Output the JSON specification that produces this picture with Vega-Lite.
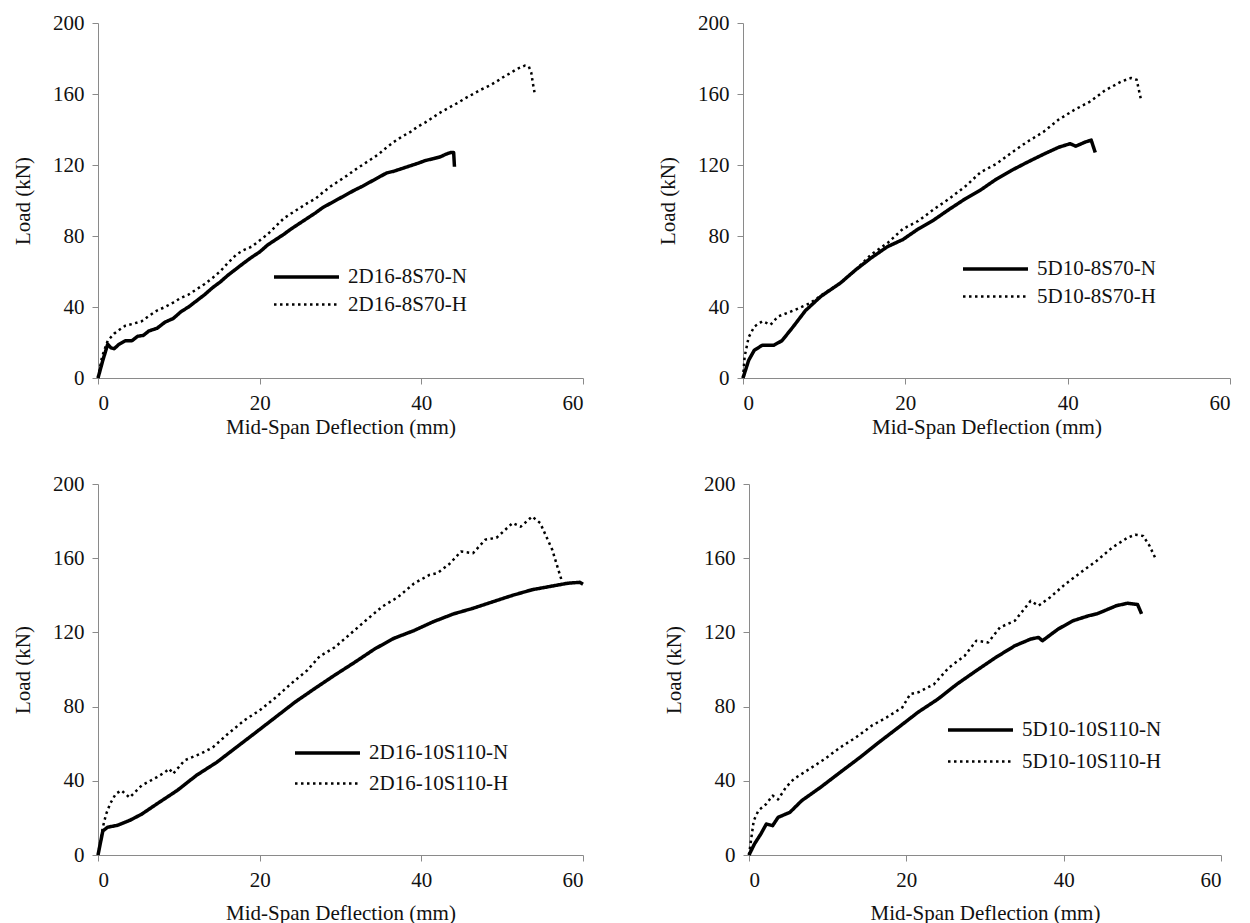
{
  "$schema": "https://vega.github.io/schema/vega-lite/v6.json",
  "background": "white",
  "padding": {"left": 12, "top": 12, "right": 5, "bottom": 5},
  "autosize": {"type": "pad"},
  "config": {
    "font": "Liberation Serif",
    "view": {"stroke": null},
    "line": {"color": "black", "strokeCap": "butt", "strokeJoin": "round"},
    "style": {
      "guide-label": {"font": "Liberation Serif", "fill": "#111"},
      "guide-title": {"font": "Liberation Serif", "fill": "#111"}
    },
    "axis": {
      "grid": false,
      "domainColor": "#8a8a8a",
      "tickColor": "#8a8a8a",
      "domainWidth": 1,
      "tickSize": 6,
      "labelFont": "Liberation Serif",
      "labelFontSize": 21,
      "labelColor": "#111",
      "labelPadding": 8,
      "titleFont": "Liberation Serif",
      "titleFontSize": 21,
      "titleFontWeight": "normal",
      "titleColor": "#111"
    },
    "axisX": {"titlePadding": 12},
    "axisY": {"titlePadding": 19},
    "legend": {
      "title": null,
      "orient": "none",
      "padding": 0,
      "symbolType": "M0,0H4",
      "symbolSize": 1056,
      "symbolStrokeColor": "black",
      "symbolFillColor": "transparent",
      "labelFont": "Liberation Serif",
      "labelFontSize": 21,
      "labelColor": "#111",
      "labelOffset": 56,
      "rowPadding": 0
    }
  },
  "data": {"values": [
    {"p":"TL","s":"2D16-8S70-N","x":0,"y":0},{"p":"TL","s":"2D16-8S70-N","x":0.6,"y":10},{"p":"TL","s":"2D16-8S70-N","x":1.2,"y":19},{"p":"TL","s":"2D16-8S70-N","x":1.6,"y":17},{"p":"TL","s":"2D16-8S70-N","x":2.0,"y":16.5},{"p":"TL","s":"2D16-8S70-N","x":2.6,"y":19},{"p":"TL","s":"2D16-8S70-N","x":3.4,"y":21},{"p":"TL","s":"2D16-8S70-N","x":4.2,"y":21},{"p":"TL","s":"2D16-8S70-N","x":4.9,"y":23.5},{"p":"TL","s":"2D16-8S70-N","x":5.6,"y":24},{"p":"TL","s":"2D16-8S70-N","x":6.3,"y":26.5},{"p":"TL","s":"2D16-8S70-N","x":7.3,"y":28},{"p":"TL","s":"2D16-8S70-N","x":8.3,"y":31.5},{"p":"TL","s":"2D16-8S70-N","x":9.3,"y":33.5},{"p":"TL","s":"2D16-8S70-N","x":10.3,"y":37.5},{"p":"TL","s":"2D16-8S70-N","x":11.2,"y":40},{"p":"TL","s":"2D16-8S70-N","x":12.2,"y":43.5},{"p":"TL","s":"2D16-8S70-N","x":13.2,"y":47},{"p":"TL","s":"2D16-8S70-N","x":14.2,"y":51},{"p":"TL","s":"2D16-8S70-N","x":15.1,"y":54},{"p":"TL","s":"2D16-8S70-N","x":16.1,"y":58},{"p":"TL","s":"2D16-8S70-N","x":17.1,"y":61.5},{"p":"TL","s":"2D16-8S70-N","x":18.1,"y":65},{"p":"TL","s":"2D16-8S70-N","x":19,"y":68},{"p":"TL","s":"2D16-8S70-N","x":20,"y":71},{"p":"TL","s":"2D16-8S70-N","x":21,"y":75},{"p":"TL","s":"2D16-8S70-N","x":22,"y":78},{"p":"TL","s":"2D16-8S70-N","x":23,"y":81},{"p":"TL","s":"2D16-8S70-N","x":23.9,"y":84},{"p":"TL","s":"2D16-8S70-N","x":24.9,"y":87},{"p":"TL","s":"2D16-8S70-N","x":25.9,"y":90},{"p":"TL","s":"2D16-8S70-N","x":26.9,"y":93},{"p":"TL","s":"2D16-8S70-N","x":27.8,"y":96},{"p":"TL","s":"2D16-8S70-N","x":28.8,"y":98.5},{"p":"TL","s":"2D16-8S70-N","x":29.8,"y":101},{"p":"TL","s":"2D16-8S70-N","x":30.8,"y":103.5},{"p":"TL","s":"2D16-8S70-N","x":31.8,"y":106},{"p":"TL","s":"2D16-8S70-N","x":32.7,"y":108},{"p":"TL","s":"2D16-8S70-N","x":33.7,"y":110.5},{"p":"TL","s":"2D16-8S70-N","x":34.7,"y":113},{"p":"TL","s":"2D16-8S70-N","x":35.7,"y":115.5},{"p":"TL","s":"2D16-8S70-N","x":36.6,"y":116.5},{"p":"TL","s":"2D16-8S70-N","x":37.6,"y":118},{"p":"TL","s":"2D16-8S70-N","x":38.6,"y":119.5},{"p":"TL","s":"2D16-8S70-N","x":39.6,"y":121},{"p":"TL","s":"2D16-8S70-N","x":40.5,"y":122.5},{"p":"TL","s":"2D16-8S70-N","x":41.5,"y":123.6},{"p":"TL","s":"2D16-8S70-N","x":42.3,"y":124.5},{"p":"TL","s":"2D16-8S70-N","x":43,"y":126},{"p":"TL","s":"2D16-8S70-N","x":43.6,"y":127},{"p":"TL","s":"2D16-8S70-N","x":44,"y":127},{"p":"TL","s":"2D16-8S70-N","x":44.1,"y":119},
    {"p":"TL","s":"2D16-8S70-H","x":0,"y":0},{"p":"TL","s":"2D16-8S70-H","x":0.5,"y":12},{"p":"TL","s":"2D16-8S70-H","x":1.2,"y":21},{"p":"TL","s":"2D16-8S70-H","x":2,"y":25},{"p":"TL","s":"2D16-8S70-H","x":2.6,"y":27},{"p":"TL","s":"2D16-8S70-H","x":3.4,"y":29.5},{"p":"TL","s":"2D16-8S70-H","x":4.3,"y":30.5},{"p":"TL","s":"2D16-8S70-H","x":5.4,"y":32},{"p":"TL","s":"2D16-8S70-H","x":6.3,"y":35},{"p":"TL","s":"2D16-8S70-H","x":7.3,"y":38},{"p":"TL","s":"2D16-8S70-H","x":8.3,"y":40},{"p":"TL","s":"2D16-8S70-H","x":9.3,"y":42.5},{"p":"TL","s":"2D16-8S70-H","x":10.2,"y":45},{"p":"TL","s":"2D16-8S70-H","x":11.2,"y":47},{"p":"TL","s":"2D16-8S70-H","x":12.2,"y":50},{"p":"TL","s":"2D16-8S70-H","x":13.2,"y":53},{"p":"TL","s":"2D16-8S70-H","x":14.2,"y":56.5},{"p":"TL","s":"2D16-8S70-H","x":15.1,"y":60},{"p":"TL","s":"2D16-8S70-H","x":16.1,"y":65},{"p":"TL","s":"2D16-8S70-H","x":17.1,"y":69.5},{"p":"TL","s":"2D16-8S70-H","x":18,"y":72},{"p":"TL","s":"2D16-8S70-H","x":19,"y":74},{"p":"TL","s":"2D16-8S70-H","x":20,"y":77.5},{"p":"TL","s":"2D16-8S70-H","x":21,"y":81},{"p":"TL","s":"2D16-8S70-H","x":22,"y":85.5},{"p":"TL","s":"2D16-8S70-H","x":23,"y":90},{"p":"TL","s":"2D16-8S70-H","x":24,"y":93},{"p":"TL","s":"2D16-8S70-H","x":24.9,"y":95.6},{"p":"TL","s":"2D16-8S70-H","x":25.9,"y":98.5},{"p":"TL","s":"2D16-8S70-H","x":26.9,"y":101},{"p":"TL","s":"2D16-8S70-H","x":27.8,"y":104.5},{"p":"TL","s":"2D16-8S70-H","x":28.8,"y":108},{"p":"TL","s":"2D16-8S70-H","x":29.8,"y":111},{"p":"TL","s":"2D16-8S70-H","x":30.8,"y":114},{"p":"TL","s":"2D16-8S70-H","x":31.7,"y":117},{"p":"TL","s":"2D16-8S70-H","x":32.7,"y":120},{"p":"TL","s":"2D16-8S70-H","x":33.7,"y":123},{"p":"TL","s":"2D16-8S70-H","x":34.7,"y":126},{"p":"TL","s":"2D16-8S70-H","x":35.6,"y":129.5},{"p":"TL","s":"2D16-8S70-H","x":36.6,"y":133},{"p":"TL","s":"2D16-8S70-H","x":37.6,"y":136},{"p":"TL","s":"2D16-8S70-H","x":38.6,"y":138.5},{"p":"TL","s":"2D16-8S70-H","x":39.5,"y":141.5},{"p":"TL","s":"2D16-8S70-H","x":40.5,"y":144},{"p":"TL","s":"2D16-8S70-H","x":41.5,"y":147},{"p":"TL","s":"2D16-8S70-H","x":42.5,"y":150},{"p":"TL","s":"2D16-8S70-H","x":43.5,"y":152.5},{"p":"TL","s":"2D16-8S70-H","x":44.5,"y":155},{"p":"TL","s":"2D16-8S70-H","x":45.4,"y":157.5},{"p":"TL","s":"2D16-8S70-H","x":46.4,"y":160},{"p":"TL","s":"2D16-8S70-H","x":47.4,"y":162.5},{"p":"TL","s":"2D16-8S70-H","x":48.4,"y":164.6},{"p":"TL","s":"2D16-8S70-H","x":49.3,"y":167},{"p":"TL","s":"2D16-8S70-H","x":50.3,"y":170},{"p":"TL","s":"2D16-8S70-H","x":51.1,"y":172},{"p":"TL","s":"2D16-8S70-H","x":51.8,"y":174},{"p":"TL","s":"2D16-8S70-H","x":52.8,"y":176},{"p":"TL","s":"2D16-8S70-H","x":53.3,"y":175.5},{"p":"TL","s":"2D16-8S70-H","x":53.6,"y":172},{"p":"TL","s":"2D16-8S70-H","x":53.8,"y":166},{"p":"TL","s":"2D16-8S70-H","x":54,"y":161},
    {"p":"TR","s":"5D10-8S70-N","x":0,"y":0},{"p":"TR","s":"5D10-8S70-N","x":0.7,"y":10},{"p":"TR","s":"5D10-8S70-N","x":1.4,"y":15.7},{"p":"TR","s":"5D10-8S70-N","x":2.4,"y":18.5},{"p":"TR","s":"5D10-8S70-N","x":3.8,"y":18.5},{"p":"TR","s":"5D10-8S70-N","x":4.8,"y":21},{"p":"TR","s":"5D10-8S70-N","x":6.2,"y":29},{"p":"TR","s":"5D10-8S70-N","x":7.7,"y":38},{"p":"TR","s":"5D10-8S70-N","x":9.6,"y":46},{"p":"TR","s":"5D10-8S70-N","x":12,"y":53.5},{"p":"TR","s":"5D10-8S70-N","x":13.9,"y":61},{"p":"TR","s":"5D10-8S70-N","x":15.8,"y":67.7},{"p":"TR","s":"5D10-8S70-N","x":17.8,"y":74},{"p":"TR","s":"5D10-8S70-N","x":19.7,"y":78},{"p":"TR","s":"5D10-8S70-N","x":21.6,"y":84},{"p":"TR","s":"5D10-8S70-N","x":23.5,"y":89},{"p":"TR","s":"5D10-8S70-N","x":25.4,"y":95},{"p":"TR","s":"5D10-8S70-N","x":27.4,"y":101},{"p":"TR","s":"5D10-8S70-N","x":29.3,"y":106},{"p":"TR","s":"5D10-8S70-N","x":31.2,"y":112},{"p":"TR","s":"5D10-8S70-N","x":33.1,"y":117},{"p":"TR","s":"5D10-8S70-N","x":35,"y":121.5},{"p":"TR","s":"5D10-8S70-N","x":37,"y":126},{"p":"TR","s":"5D10-8S70-N","x":38.9,"y":130},{"p":"TR","s":"5D10-8S70-N","x":40.3,"y":132},{"p":"TR","s":"5D10-8S70-N","x":41,"y":130.6},{"p":"TR","s":"5D10-8S70-N","x":42.2,"y":133},{"p":"TR","s":"5D10-8S70-N","x":42.9,"y":134},{"p":"TR","s":"5D10-8S70-N","x":43.4,"y":127},
    {"p":"TR","s":"5D10-8S70-H","x":0,"y":0},{"p":"TR","s":"5D10-8S70-H","x":0.2,"y":12},{"p":"TR","s":"5D10-8S70-H","x":0.7,"y":23},{"p":"TR","s":"5D10-8S70-H","x":1.4,"y":29},{"p":"TR","s":"5D10-8S70-H","x":2.4,"y":32},{"p":"TR","s":"5D10-8S70-H","x":3.4,"y":30},{"p":"TR","s":"5D10-8S70-H","x":4.3,"y":34.6},{"p":"TR","s":"5D10-8S70-H","x":6.2,"y":38},{"p":"TR","s":"5D10-8S70-H","x":8.2,"y":42},{"p":"TR","s":"5D10-8S70-H","x":10.1,"y":48},{"p":"TR","s":"5D10-8S70-H","x":12,"y":53.5},{"p":"TR","s":"5D10-8S70-H","x":13.9,"y":61},{"p":"TR","s":"5D10-8S70-H","x":15.8,"y":69.6},{"p":"TR","s":"5D10-8S70-H","x":17.8,"y":76},{"p":"TR","s":"5D10-8S70-H","x":19.7,"y":84},{"p":"TR","s":"5D10-8S70-H","x":21.6,"y":88.5},{"p":"TR","s":"5D10-8S70-H","x":23.5,"y":95},{"p":"TR","s":"5D10-8S70-H","x":25.4,"y":101},{"p":"TR","s":"5D10-8S70-H","x":27.4,"y":108},{"p":"TR","s":"5D10-8S70-H","x":29.3,"y":116},{"p":"TR","s":"5D10-8S70-H","x":31.2,"y":120.6},{"p":"TR","s":"5D10-8S70-H","x":33.1,"y":127},{"p":"TR","s":"5D10-8S70-H","x":35,"y":133},{"p":"TR","s":"5D10-8S70-H","x":37,"y":138.6},{"p":"TR","s":"5D10-8S70-H","x":38.9,"y":145.6},{"p":"TR","s":"5D10-8S70-H","x":40.8,"y":151},{"p":"TR","s":"5D10-8S70-H","x":42.7,"y":155.6},{"p":"TR","s":"5D10-8S70-H","x":44.6,"y":162},{"p":"TR","s":"5D10-8S70-H","x":46.6,"y":167},{"p":"TR","s":"5D10-8S70-H","x":47.8,"y":169},{"p":"TR","s":"5D10-8S70-H","x":48.5,"y":168},{"p":"TR","s":"5D10-8S70-H","x":49,"y":157.5},
    {"p":"BL","s":"2D16-10S110-N","x":0,"y":0},{"p":"BL","s":"2D16-10S110-N","x":0.6,"y":13},{"p":"BL","s":"2D16-10S110-N","x":1.2,"y":15},{"p":"BL","s":"2D16-10S110-N","x":2.4,"y":16},{"p":"BL","s":"2D16-10S110-N","x":3.9,"y":18.6},{"p":"BL","s":"2D16-10S110-N","x":5.4,"y":22},{"p":"BL","s":"2D16-10S110-N","x":7.3,"y":27.6},{"p":"BL","s":"2D16-10S110-N","x":9.8,"y":34.8},{"p":"BL","s":"2D16-10S110-N","x":12.2,"y":43},{"p":"BL","s":"2D16-10S110-N","x":14.7,"y":50},{"p":"BL","s":"2D16-10S110-N","x":17.1,"y":58},{"p":"BL","s":"2D16-10S110-N","x":19.5,"y":66},{"p":"BL","s":"2D16-10S110-N","x":22,"y":74.4},{"p":"BL","s":"2D16-10S110-N","x":24.4,"y":82.5},{"p":"BL","s":"2D16-10S110-N","x":26.9,"y":90},{"p":"BL","s":"2D16-10S110-N","x":29.3,"y":97},{"p":"BL","s":"2D16-10S110-N","x":31.8,"y":104},{"p":"BL","s":"2D16-10S110-N","x":34.2,"y":111},{"p":"BL","s":"2D16-10S110-N","x":36.6,"y":116.8},{"p":"BL","s":"2D16-10S110-N","x":39.1,"y":121},{"p":"BL","s":"2D16-10S110-N","x":41.5,"y":125.8},{"p":"BL","s":"2D16-10S110-N","x":44,"y":130},{"p":"BL","s":"2D16-10S110-N","x":46.4,"y":133},{"p":"BL","s":"2D16-10S110-N","x":48.9,"y":136.6},{"p":"BL","s":"2D16-10S110-N","x":51.3,"y":140},{"p":"BL","s":"2D16-10S110-N","x":53.7,"y":143},{"p":"BL","s":"2D16-10S110-N","x":56.2,"y":145},{"p":"BL","s":"2D16-10S110-N","x":58.1,"y":146.5},{"p":"BL","s":"2D16-10S110-N","x":59.6,"y":147},{"p":"BL","s":"2D16-10S110-N","x":60,"y":146},
    {"p":"BL","s":"2D16-10S110-H","x":0,"y":0},{"p":"BL","s":"2D16-10S110-H","x":0.6,"y":15},{"p":"BL","s":"2D16-10S110-H","x":1,"y":22},{"p":"BL","s":"2D16-10S110-H","x":1.5,"y":27.6},{"p":"BL","s":"2D16-10S110-H","x":2.2,"y":33},{"p":"BL","s":"2D16-10S110-H","x":2.9,"y":34.8},{"p":"BL","s":"2D16-10S110-H","x":3.9,"y":31},{"p":"BL","s":"2D16-10S110-H","x":5.4,"y":37.5},{"p":"BL","s":"2D16-10S110-H","x":7.3,"y":42},{"p":"BL","s":"2D16-10S110-H","x":8.3,"y":44.7},{"p":"BL","s":"2D16-10S110-H","x":8.8,"y":46.5},{"p":"BL","s":"2D16-10S110-H","x":9.3,"y":43.8},{"p":"BL","s":"2D16-10S110-H","x":10.7,"y":51},{"p":"BL","s":"2D16-10S110-H","x":12.7,"y":54.6},{"p":"BL","s":"2D16-10S110-H","x":14.2,"y":58},{"p":"BL","s":"2D16-10S110-H","x":16.1,"y":65.4},{"p":"BL","s":"2D16-10S110-H","x":18.1,"y":72.6},{"p":"BL","s":"2D16-10S110-H","x":20,"y":78},{"p":"BL","s":"2D16-10S110-H","x":22,"y":85},{"p":"BL","s":"2D16-10S110-H","x":23.9,"y":92.4},{"p":"BL","s":"2D16-10S110-H","x":25.9,"y":99.6},{"p":"BL","s":"2D16-10S110-H","x":27.4,"y":107},{"p":"BL","s":"2D16-10S110-H","x":29.3,"y":112},{"p":"BL","s":"2D16-10S110-H","x":31.3,"y":119.5},{"p":"BL","s":"2D16-10S110-H","x":33.2,"y":126.7},{"p":"BL","s":"2D16-10S110-H","x":35.2,"y":134},{"p":"BL","s":"2D16-10S110-H","x":37.1,"y":139},{"p":"BL","s":"2D16-10S110-H","x":39.1,"y":146.4},{"p":"BL","s":"2D16-10S110-H","x":41,"y":151},{"p":"BL","s":"2D16-10S110-H","x":42,"y":152},{"p":"BL","s":"2D16-10S110-H","x":43.5,"y":157},{"p":"BL","s":"2D16-10S110-H","x":44.9,"y":163.6},{"p":"BL","s":"2D16-10S110-H","x":46.4,"y":162.7},{"p":"BL","s":"2D16-10S110-H","x":47.9,"y":170},{"p":"BL","s":"2D16-10S110-H","x":49.3,"y":171},{"p":"BL","s":"2D16-10S110-H","x":51.3,"y":179},{"p":"BL","s":"2D16-10S110-H","x":52.3,"y":177},{"p":"BL","s":"2D16-10S110-H","x":53.7,"y":182.5},{"p":"BL","s":"2D16-10S110-H","x":54.7,"y":179},{"p":"BL","s":"2D16-10S110-H","x":56.2,"y":164.5},{"p":"BL","s":"2D16-10S110-H","x":57.4,"y":147.4},
    {"p":"BR","s":"5D10-10S110-N","x":0,"y":0},{"p":"BR","s":"5D10-10S110-N","x":0.7,"y":6},{"p":"BR","s":"5D10-10S110-N","x":1.5,"y":11.3},{"p":"BR","s":"5D10-10S110-N","x":2.2,"y":16.7},{"p":"BR","s":"5D10-10S110-N","x":3,"y":15.8},{"p":"BR","s":"5D10-10S110-N","x":3.7,"y":20.3},{"p":"BR","s":"5D10-10S110-N","x":5.2,"y":23},{"p":"BR","s":"5D10-10S110-N","x":6.7,"y":29.3},{"p":"BR","s":"5D10-10S110-N","x":9.1,"y":36.5},{"p":"BR","s":"5D10-10S110-N","x":11.6,"y":44.6},{"p":"BR","s":"5D10-10S110-N","x":14.1,"y":52.6},{"p":"BR","s":"5D10-10S110-N","x":16.5,"y":60.7},{"p":"BR","s":"5D10-10S110-N","x":19,"y":68.8},{"p":"BR","s":"5D10-10S110-N","x":21.5,"y":77},{"p":"BR","s":"5D10-10S110-N","x":24,"y":84},{"p":"BR","s":"5D10-10S110-N","x":26.4,"y":92},{"p":"BR","s":"5D10-10S110-N","x":28.9,"y":99.4},{"p":"BR","s":"5D10-10S110-N","x":31.4,"y":106.6},{"p":"BR","s":"5D10-10S110-N","x":33.8,"y":112.8},{"p":"BR","s":"5D10-10S110-N","x":35.8,"y":116.4},{"p":"BR","s":"5D10-10S110-N","x":36.8,"y":117.3},{"p":"BR","s":"5D10-10S110-N","x":37.3,"y":115.5},{"p":"BR","s":"5D10-10S110-N","x":39.3,"y":121.8},{"p":"BR","s":"5D10-10S110-N","x":41.2,"y":126.3},{"p":"BR","s":"5D10-10S110-N","x":43.2,"y":129},{"p":"BR","s":"5D10-10S110-N","x":44.2,"y":130},{"p":"BR","s":"5D10-10S110-N","x":45.2,"y":131.7},{"p":"BR","s":"5D10-10S110-N","x":46.7,"y":134.4},{"p":"BR","s":"5D10-10S110-N","x":48.1,"y":135.7},{"p":"BR","s":"5D10-10S110-N","x":48.9,"y":135.3},{"p":"BR","s":"5D10-10S110-N","x":49.4,"y":135},{"p":"BR","s":"5D10-10S110-N","x":49.9,"y":130},
    {"p":"BR","s":"5D10-10S110-H","x":0,"y":0},{"p":"BR","s":"5D10-10S110-H","x":0.25,"y":7.7},{"p":"BR","s":"5D10-10S110-H","x":0.6,"y":18.5},{"p":"BR","s":"5D10-10S110-H","x":1.2,"y":24},{"p":"BR","s":"5D10-10S110-H","x":2.2,"y":27.5},{"p":"BR","s":"5D10-10S110-H","x":3,"y":32},{"p":"BR","s":"5D10-10S110-H","x":3.7,"y":30},{"p":"BR","s":"5D10-10S110-H","x":4.7,"y":36.5},{"p":"BR","s":"5D10-10S110-H","x":5.7,"y":41},{"p":"BR","s":"5D10-10S110-H","x":7.7,"y":46.4},{"p":"BR","s":"5D10-10S110-H","x":9.6,"y":51.7},{"p":"BR","s":"5D10-10S110-H","x":11.6,"y":58},{"p":"BR","s":"5D10-10S110-H","x":13.6,"y":63.4},{"p":"BR","s":"5D10-10S110-H","x":15.6,"y":69.7},{"p":"BR","s":"5D10-10S110-H","x":17.5,"y":74.2},{"p":"BR","s":"5D10-10S110-H","x":19.5,"y":79.6},{"p":"BR","s":"5D10-10S110-H","x":20.5,"y":86.8},{"p":"BR","s":"5D10-10S110-H","x":21.5,"y":87.7},{"p":"BR","s":"5D10-10S110-H","x":23.5,"y":92},{"p":"BR","s":"5D10-10S110-H","x":25.4,"y":101},{"p":"BR","s":"5D10-10S110-H","x":27.4,"y":107.3},{"p":"BR","s":"5D10-10S110-H","x":28.9,"y":115.5},{"p":"BR","s":"5D10-10S110-H","x":30.4,"y":114.6},{"p":"BR","s":"5D10-10S110-H","x":31.9,"y":122.7},{"p":"BR","s":"5D10-10S110-H","x":33.8,"y":126.3},{"p":"BR","s":"5D10-10S110-H","x":35.8,"y":137},{"p":"BR","s":"5D10-10S110-H","x":36.8,"y":134.4},{"p":"BR","s":"5D10-10S110-H","x":38.3,"y":139},{"p":"BR","s":"5D10-10S110-H","x":40.2,"y":146},{"p":"BR","s":"5D10-10S110-H","x":42.2,"y":152.4},{"p":"BR","s":"5D10-10S110-H","x":44.2,"y":158.6},{"p":"BR","s":"5D10-10S110-H","x":46.2,"y":165.8},{"p":"BR","s":"5D10-10S110-H","x":48.1,"y":171},{"p":"BR","s":"5D10-10S110-H","x":49.1,"y":172.7},{"p":"BR","s":"5D10-10S110-H","x":50.1,"y":172},{"p":"BR","s":"5D10-10S110-H","x":50.9,"y":166.8},{"p":"BR","s":"5D10-10S110-H","x":51.6,"y":160.5}
  ]},
  "spacing": 36,
  "resolve": {
    "scale": {"strokeDash": "independent", "strokeWidth": "independent"},
    "legend": {"strokeDash": "independent", "strokeWidth": "independent"}
  },
  "vconcat": [
    {
      "spacing": 73,
      "resolve": {
        "scale": {"strokeDash": "independent", "strokeWidth": "independent"},
        "legend": {"strokeDash": "independent", "strokeWidth": "independent"}
      },
      "hconcat": [
        {
          "width": 485, "height": 355,
          "transform": [{"filter": "datum.p == 'TL'"}],
          "mark": {"type": "line"},
          "encoding": {
            "x": {"field": "x", "type": "quantitative", "scale": {"domain": [0, 60]}, "axis": {"values": [0, 20, 40, 60], "title": "Mid-Span Deflection (mm)", "titlePadding": 3, "labelFont": "Liberation Serif", "titleFont": "Liberation Serif"}},
            "y": {"field": "y", "type": "quantitative", "scale": {"domain": [0, 200]}, "axis": {"values": [0, 40, 80, 120, 160, 200], "title": "Load (kN)", "labelFont": "Liberation Serif", "titleFont": "Liberation Serif"}},
            "strokeDash": {"field": "s", "type": "nominal", "scale": {"domain": ["2D16-8S70-N", "2D16-8S70-H"], "range": [[1, 0], [2.5, 3.5]]}, "legend": {"legendX": 158, "legendY": 236, "rowPadding": 0}},
            "strokeWidth": {"field": "s", "type": "nominal", "scale": {"domain": ["2D16-8S70-N", "2D16-8S70-H"], "range": [3.5, 2.5]}, "legend": {"legendX": 158, "legendY": 236, "rowPadding": 0}}
          }
        },
        {
          "width": 487, "height": 355,
          "transform": [{"filter": "datum.p == 'TR'"}],
          "mark": {"type": "line"},
          "encoding": {
            "x": {"field": "x", "type": "quantitative", "scale": {"domain": [0, 60]}, "axis": {"values": [0, 20, 40, 60], "title": "Mid-Span Deflection (mm)", "titlePadding": 3, "labelFont": "Liberation Serif", "titleFont": "Liberation Serif"}},
            "y": {"field": "y", "type": "quantitative", "scale": {"domain": [0, 200]}, "axis": {"values": [0, 40, 80, 120, 160, 200], "title": "Load (kN)", "labelFont": "Liberation Serif", "titleFont": "Liberation Serif"}},
            "strokeDash": {"field": "s", "type": "nominal", "scale": {"domain": ["5D10-8S70-N", "5D10-8S70-H"], "range": [[1, 0], [2.5, 3.5]]}, "legend": {"legendX": 202, "legendY": 228, "rowPadding": 0}},
            "strokeWidth": {"field": "s", "type": "nominal", "scale": {"domain": ["5D10-8S70-N", "5D10-8S70-H"], "range": [3.5, 2.5]}, "legend": {"legendX": 202, "legendY": 228, "rowPadding": 0}}
          }
        }
      ]
    },
    {
      "spacing": 78,
      "resolve": {
        "scale": {"strokeDash": "independent", "strokeWidth": "independent"},
        "legend": {"strokeDash": "independent", "strokeWidth": "independent"}
      },
      "hconcat": [
        {
          "width": 485, "height": 371,
          "transform": [{"filter": "datum.p == 'BL'"}],
          "mark": {"type": "line"},
          "encoding": {
            "x": {"field": "x", "type": "quantitative", "scale": {"domain": [0, 60]}, "axis": {"values": [0, 20, 40, 60], "title": "Mid-Span Deflection (mm)", "labelFont": "Liberation Serif", "titleFont": "Liberation Serif"}},
            "y": {"field": "y", "type": "quantitative", "scale": {"domain": [0, 200]}, "axis": {"values": [0, 40, 80, 120, 160, 200], "title": "Load (kN)", "labelFont": "Liberation Serif", "titleFont": "Liberation Serif"}},
            "strokeDash": {"field": "s", "type": "nominal", "scale": {"domain": ["2D16-10S110-N", "2D16-10S110-H"], "range": [[1, 0], [2.5, 3.5]]}, "legend": {"legendX": 179, "legendY": 251, "rowPadding": 3}},
            "strokeWidth": {"field": "s", "type": "nominal", "scale": {"domain": ["2D16-10S110-N", "2D16-10S110-H"], "range": [3.5, 2.5]}, "legend": {"legendX": 179, "legendY": 251, "rowPadding": 3}}
          }
        },
        {
          "width": 472, "height": 371,
          "transform": [{"filter": "datum.p == 'BR'"}],
          "mark": {"type": "line"},
          "encoding": {
            "x": {"field": "x", "type": "quantitative", "scale": {"domain": [0, 60]}, "axis": {"values": [0, 20, 40, 60], "title": "Mid-Span Deflection (mm)", "labelFont": "Liberation Serif", "titleFont": "Liberation Serif"}},
            "y": {"field": "y", "type": "quantitative", "scale": {"domain": [0, 200]}, "axis": {"values": [0, 40, 80, 120, 160, 200], "title": "Load (kN)", "labelFont": "Liberation Serif", "titleFont": "Liberation Serif"}},
            "strokeDash": {"field": "s", "type": "nominal", "scale": {"domain": ["5D10-10S110-N", "5D10-10S110-H"], "range": [[1, 0], [2.5, 3.5]]}, "legend": {"legendX": 181, "legendY": 228, "rowPadding": 4}},
            "strokeWidth": {"field": "s", "type": "nominal", "scale": {"domain": ["5D10-10S110-N", "5D10-10S110-H"], "range": [3.5, 2.5]}, "legend": {"legendX": 181, "legendY": 228, "rowPadding": 4}}
          }
        }
      ]
    }
  ]
}
